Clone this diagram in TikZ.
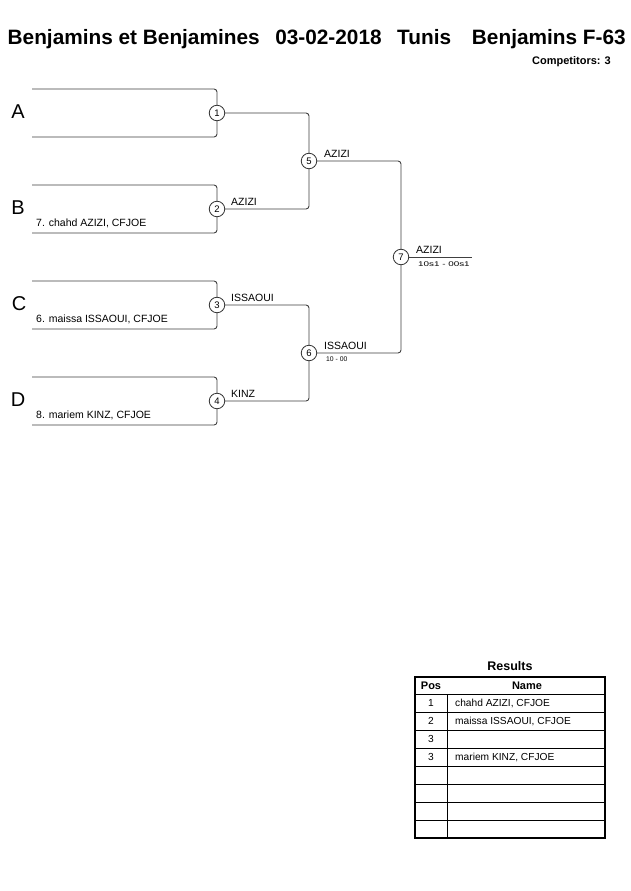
\documentclass[tikz,border=0pt]{standalone}
\usepackage{fontspec}
\usepackage{graphicx}
\setmainfont{Liberation Sans}
\begin{document}
\begin{tikzpicture}[x=1pt,y=-1pt,
  ln/.style={draw=black!75,line width=0.9pt,rounded corners=3pt},
  mcirc/.style={circle,draw=black!80,line width=0.8pt,fill=white,minimum size=15.5pt,inner sep=0pt,font=\fontsize{9.5}{10}\selectfont},
  lbl/.style={font=\fontsize{20}{22}\selectfont,anchor=center,inner sep=0pt},
  pname/.style={font=\fontsize{10.5}{12}\selectfont,anchor=west,inner sep=0pt},
  win/.style={font=\fontsize{10.5}{12}\selectfont,anchor=south west,inner sep=0pt},
  score/.style={font=\fontsize{6.8}{8}\selectfont,anchor=north west,inner sep=0pt},
  tab/.style={draw=black,line width=0.7pt},
  cell/.style={font=\fontsize{10.2}{12}\selectfont,inner sep=0pt},
  hcell/.style={font=\fontsize{11}{12}\bfseries,inner sep=0pt}]
\useasboundingbox (0,0) rectangle (630,891);
\fill[white] (0,0) rectangle (630,891);
% title
\node[font=\fontsize{20.8}{24}\bfseries,anchor=base west,inner sep=0pt] (title) at (7.5,45)
  {Benjamins et Benjamines\hspace{0.75em}03-02-2018\hspace{0.75em}Tunis\hspace{1em}Benjamins F-63};
\node[font=\fontsize{11}{12}\bfseries,anchor=base east,inner sep=0pt] (comp) at (611,64) {Competitors: 3};
% letters
\node[lbl] (LA) at (18,112) {A};
\node[lbl] (LB) at (18,208) {B};
\node[lbl] (LC) at (19,304) {C};
\node[lbl] (LD) at (18,400) {D};
% bracket corner coordinates
\coordinate (a1) at (32,89);  \coordinate (a2) at (32,137);
\coordinate (b1) at (32,185); \coordinate (b2) at (32,233);
\coordinate (c1) at (32,281); \coordinate (c2) at (32,329);
\coordinate (d1) at (32,377); \coordinate (d2) at (32,425);
\coordinate (fin) at (472,257);
% circles
\node[mcirc] (m1) at (217,113) {1};
\node[mcirc] (m2) at (217,209) {2};
\node[mcirc] (m3) at (217,305) {3};
\node[mcirc] (m4) at (217,401) {4};
\node[mcirc] (m5) at (309,161) {5};
\node[mcirc] (m6) at (309,353) {6};
\node[mcirc] (m7) at (401,257) {7};
% brackets
\draw[ln] (a1) -| (m1.north); \draw[ln] (m1.south) |- (a2);
\draw[ln] (b1) -| (m2.north); \draw[ln] (m2.south) |- (b2);
\draw[ln] (c1) -| (m3.north); \draw[ln] (m3.south) |- (c2);
\draw[ln] (d1) -| (m4.north); \draw[ln] (m4.south) |- (d2);
\draw[ln] (m1.east) -| (m5.north); \draw[ln] (m2.east) -| (m5.south);
\draw[ln] (m3.east) -| (m6.north); \draw[ln] (m4.east) -| (m6.south);
\draw[ln] (m5.east) -| (m7.north); \draw[ln] (m6.east) -| (m7.south);
\draw[ln] (m7.east) -- (fin);
% players
\node[pname] (pB) at (36,223) {7. chahd AZIZI, CFJOE};
\node[pname] (pC) at (36,319) {6. maissa ISSAOUI, CFJOE};
\node[pname] (pD) at (36,415) {8. mariem KINZ, CFJOE};
% winners
\node[win] (w2) at (231,206) {AZIZI};
\node[win] (w3) at (231,302) {ISSAOUI};
\node[win] (w4) at (231,398) {KINZ};
\node[win] (w5) at (324,158) {AZIZI};
\node[win] (w6) at (324,350) {ISSAOUI};
\node[win] (w7) at (416,254) {AZIZI};
\node[score] (s6) at (326,357) {10 - 00};
\node[score] (s7) at (418,262) {\scalebox{1.45}[1]{10s1 - 00s1}};
% results
\node[font=\fontsize{12.5}{14}\bfseries,inner sep=0pt] (rt) at (510,666) {Results};
\draw[draw=black,line width=1.4pt] (415,677) rectangle (605,838);
\foreach \y in {694,712,730,748,766,784,802,820} \draw[tab] (415,\y) -- (605,\y);
\draw[tab] (447,694) -- (447,838);
\node[hcell] (hp) at (431,686) {Pos};
\node[hcell] (hn) at (527,686) {Name};
\node[cell] (r1) at (431,703) {1};
\node[cell] (r2) at (431,721) {2};
\node[cell] (r3) at (431,739) {3};
\node[cell] (r4) at (431,757) {3};
\node[cell,anchor=west] (n1) at (455,703) {chahd AZIZI, CFJOE};
\node[cell,anchor=west] (n2) at (455,721) {maissa ISSAOUI, CFJOE};
\node[cell,anchor=west] (n4) at (455,757) {mariem KINZ, CFJOE};
\end{tikzpicture}
\end{document}
